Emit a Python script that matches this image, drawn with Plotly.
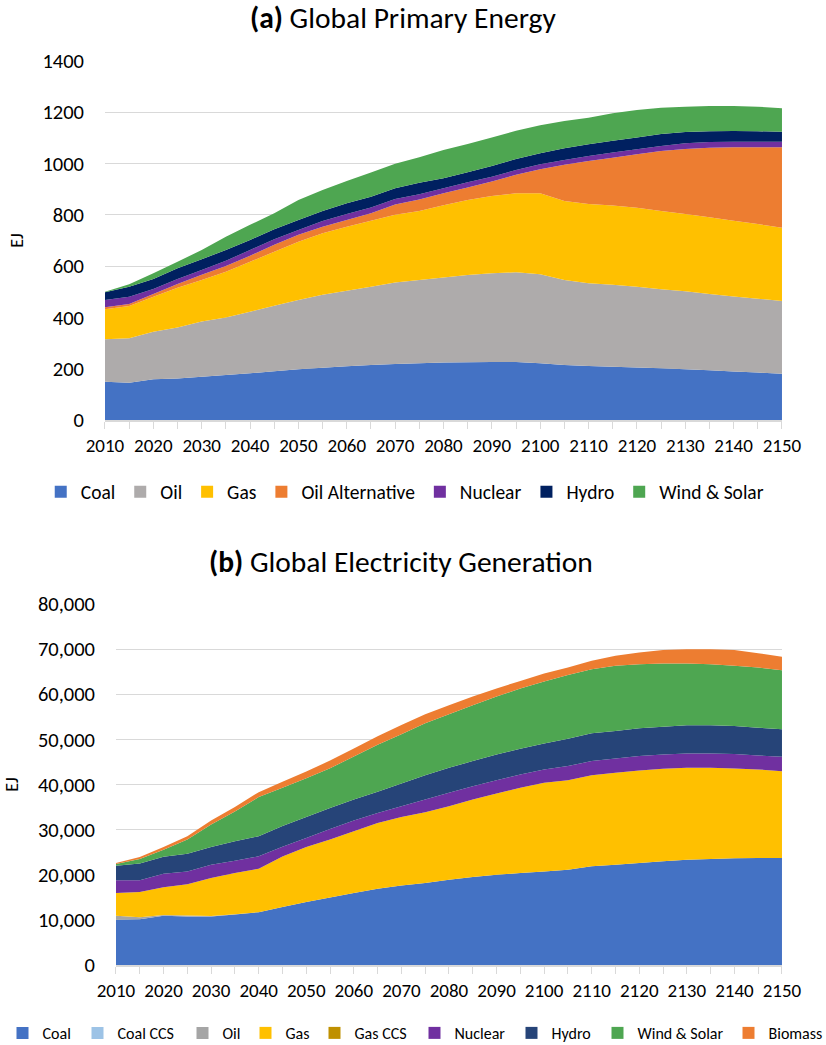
import plotly.graph_objects as go

# categories: every 5 years
years = [2010, 2015, 2020, 2025, 2030, 2035, 2040, 2045, 2050, 2055,
         2060, 2065, 2070, 2075, 2080, 2085, 2090, 2095, 2100, 2105,
         2110, 2115, 2120, 2125, 2130, 2135, 2140, 2145, 2150]

# (a) Global primary energy, EJ
coal_a = [149, 145, 159, 162, 169, 175, 182, 190, 198, 204, 210, 214, 218, 221, 224,
          225, 226, 226, 221, 214, 211, 208, 205, 202, 198, 194, 189, 185, 180]
oil_a = [166, 174, 185, 199, 215, 225, 240, 256, 270, 284, 294, 306, 318, 325, 332,
         340, 346, 350, 347, 332, 322, 319, 315, 308, 304, 297, 293, 288, 284]
gas_a = [117, 126, 137, 155, 162, 178, 195, 210, 227, 240, 250, 257, 264, 269, 282,
         293, 302, 308, 316, 308, 309, 310, 308, 305, 301, 300, 295, 291, 286]
oilalt_a = [8, 7, 10, 14, 20, 23, 24, 27, 27, 26, 26, 29, 40, 45, 46,
            49, 56, 72, 94, 141, 168, 186, 208, 234, 254, 271, 287, 300, 314]
nuclear_a = [28, 29, 20, 20, 19, 20, 22, 22, 19, 22, 23, 23, 22, 20, 20,
             20, 19, 19, 19, 19, 20, 20, 20, 20, 22, 22, 21, 21, 21]
hydro_a = [30, 39, 39, 42, 42, 42, 39, 39, 39, 39, 42, 42, 42, 45, 39,
           39, 42, 43, 43, 46, 45, 46, 46, 46, 44, 42, 42, 41, 39]
wind_a = [2, 9, 22, 25, 36, 52, 59, 62, 78, 82, 87, 94, 95, 100, 110,
          110, 111, 110, 110, 106, 104, 107, 107, 103, 99, 99, 98, 96, 92]

# (b) Global electricity generation
coal_b = [10000, 10150, 10890, 10740, 10750, 11200, 11700, 12820, 13930, 14960,
          15930, 16890, 17600, 18150, 18890, 19480, 20000, 20370, 20740, 21110,
          21850, 22220, 22590, 22960, 23330, 23480, 23630, 23700, 23700]
coalccs_b = [0, 0, 0, 0, 0, 0, 0, 0, 0, 0, 0, 0, 0, 0, 0,
             0, 0, 0, 0, 0, 0, 0, 0, 0, 0, 0, 0, 0, 0]
oil_b = [900, 400, 200, 200, 100, 50, 0, 0, 0, 0, 0, 0, 0, 0, 0,
         0, 0, 0, 0, 0, 0, 0, 0, 0, 0, 0, 0, 0, 0]
gas_b = [5040, 5630, 6150, 6970, 8410, 9120, 9630, 11200, 12220, 12820,
         13700, 14590, 15200, 15700, 16300, 17190, 18000, 18890, 19630, 19850,
         20220, 20370, 20520, 20520, 20370, 20220, 19920, 19630, 19260]
gasccs_b = [0, 0, 0, 0, 0, 0, 0, 0, 0, 0, 0, 0, 0, 0, 0,
            0, 0, 0, 0, 0, 0, 0, 0, 0, 0, 0, 0, 0, 0]
nuclear_b = [2810, 2590, 2960, 2810, 2960, 2740, 2740, 2200, 2000, 2370,
             2370, 2220, 2390, 2820, 2960, 2960, 2960, 2960, 2960, 3110,
             3110, 3190, 3190, 3190, 3190, 3190, 3190, 3110, 3190]
hydro_b = [3260, 3700, 3780, 3930, 3930, 4300, 4450, 4590, 4660, 4660,
           4670, 4670, 5010, 5400, 5550, 5550, 5710, 5710, 5780, 6080,
           6150, 6070, 6140, 6140, 6220, 6220, 6220, 6150, 6070]
wind_b = [360, 1010, 1580, 3130, 4960, 6590, 8680, 8490, 8590, 8790,
          9530, 10430, 10910, 11490, 11860, 12380, 12810, 13330, 13700, 14140,
          14230, 14450, 14230, 14000, 13700, 13560, 13340, 13340, 13110]
biomass_b = [220, 450, 590, 740, 890, 1000, 1100, 1300, 1500, 1700,
             1800, 1900, 2050, 2000, 2000, 1920, 1780, 1700, 1780, 1630,
             1850, 2220, 2590, 2970, 3190, 3330, 3480, 3180, 2960]

FONT = "Calibri, Carlito, Lato, sans-serif"
GRID = "#D9D9D9"

series_a = [
    ("Coal", coal_a, "#4472C4"),
    ("Oil", oil_a, "#AEABAB"),
    ("Gas", gas_a, "#FFC000"),
    ("Oil Alternative", oilalt_a, "#ED7D31"),
    ("Nuclear", nuclear_a, "#7030A0"),
    ("Hydro", hydro_a, "#002060"),
    ("Wind & Solar", wind_a, "#4EA651"),
]
series_b = [
    ("Coal", coal_b, "#4472C4"),
    ("Coal CCS", coalccs_b, "#9DC3E6"),
    ("Oil", oil_b, "#A5A5A5"),
    ("Gas", gas_b, "#FFC000"),
    ("Gas CCS", gasccs_b, "#BF9000"),
    ("Nuclear", nuclear_b, "#7030A0"),
    ("Hydro", hydro_b, "#264478"),
    ("Wind & Solar", wind_b, "#4EA651"),
    ("Biomass", biomass_b, "#ED7D31"),
]

# bottom legend is very crowded: squeeze text slots a little (px)
legend_w_b = {"Coal": 30, "Coal CCS": 60, "Oil": 18, "Gas": 24, "Gas CCS": 55,
              "Nuclear": 52, "Hydro": 41, "Wind & Solar": 86, "Biomass": 50}

fig = go.Figure()


def add_stack(series, xa, ya, group, legend, widths=None):
    for name, vals, col in series:
        fig.add_trace(go.Scatter(
            x=years, y=vals, name=name, stackgroup=group, mode="none",
            fillcolor=col, line=dict(width=0), xaxis=xa, yaxis=ya,
            showlegend=False,
            hovertemplate=name + " %{x}: %{y:,.0f}<extra></extra>",
        ))
    # square legend keys
    for name, _, col in series:
        extra = {"legendwidth": widths[name]} if widths else {}
        fig.add_trace(go.Scatter(
            x=[None], y=[None], name=name, mode="markers", xaxis=xa, yaxis=ya,
            marker=dict(symbol="square", size=12, color=col),
            legend=legend, showlegend=True, **extra,
        ))


add_stack(series_a, "x", "y", "a", "legend")
add_stack(series_b, "x2", "y2", "b", "legend2", legend_w_b)

xcommon = dict(
    range=[2010, 2150], tick0=2010, dtick=10, ticks="outside", ticklen=7,
    tickcolor=GRID, showline=True, linecolor=GRID, linewidth=1.5,
    showgrid=False, zeroline=False, tickfont=dict(size=19, color="#000"),
    automargin=False,
    minor=dict(tick0=2010, dtick=5, ticks="outside", ticklen=7,
               tickcolor=GRID, showgrid=False),
)
ycommon = dict(
    showgrid=True, gridcolor=GRID, gridwidth=1.3, zeroline=False,
    showline=False, ticks="", tickfont=dict(size=20.5, color="#000"),
    ticklabelstandoff=20, automargin=False,
    title=dict(text="EJ", font=dict(size=18, color="#000"), standoff=14),
)

fig.update_layout(
    width=826, height=1045,
    margin=dict(l=0, r=0, t=0, b=0, autoexpand=False),
    paper_bgcolor="white", plot_bgcolor="white",
    font=dict(family=FONT, color="#000"),
    xaxis=dict(domain=[0.1271, 0.9467], anchor="y", **xcommon),
    yaxis=dict(domain=[0.5981, 0.9416], anchor="x", range=[0, 1400],
               dtick=200, **ycommon),
    xaxis2=dict(domain=[0.1404, 0.9467], anchor="y2", **xcommon),
    yaxis2=dict(domain=[0.0766, 0.4220], anchor="x2", range=[0, 80000],
                dtick=10000, tickformat=",", **ycommon),
    legend=dict(orientation="h", x=0.49, y=0.529, xanchor="center",
                yanchor="middle", font=dict(size=19.5), itemwidth=30,
                traceorder="normal", tracegroupgap=0,
                bgcolor="rgba(0,0,0,0)"),
    legend2=dict(orientation="h", x=0.5, y=0.0115, xanchor="center",
                 yanchor="middle", font=dict(size=16), itemwidth=30,
                 traceorder="normal", tracegroupgap=0,
                 bgcolor="rgba(0,0,0,0)"),
    annotations=[
        dict(text="<b>(a)</b> Global Primary Energy", x=0.488, y=0.983,
             xref="paper", yref="paper", showarrow=False, yanchor="middle",
             font=dict(size=29.5)),
        dict(text="<b>(b)</b> Global Electricity Generation", x=0.485,
             y=0.462, xref="paper", yref="paper", showarrow=False,
             yanchor="middle", font=dict(size=29.5)),
    ],
    showlegend=True,
)

# the page's default body margin would shift the fixed-size figure
fig.write_html("out.html", config={"displayModeBar": False},
               post_script="document.body.style.margin='0';")
